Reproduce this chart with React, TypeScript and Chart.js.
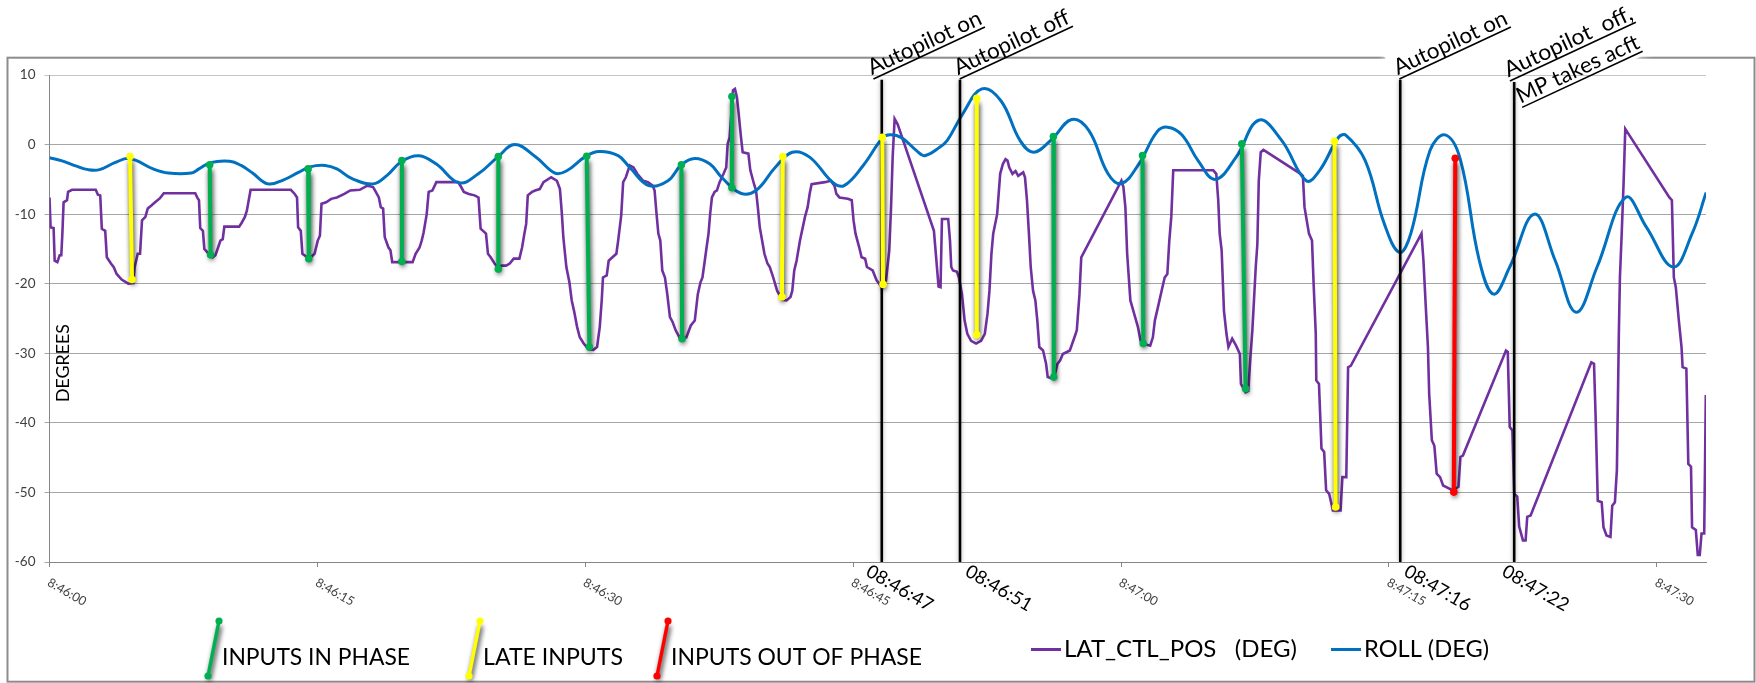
import React, { useEffect, useRef } from "react";
import { Chart, registerables } from "chart.js";

Chart.register(...registerables);

// ---------------- data ----------------
const X_TICK_VALUES = [0, 15, 30, 45, 60, 75, 90];
const X_TICK_LABELS = ["8:46:00", "8:46:15", "8:46:30", "8:46:45", "8:47:00", "8:47:15", "8:47:30"];
const Y_TICK_VALUES = [10, 0, -10, -20, -30, -40, -50, -60];

// seconds after 8:46:00
const ROLL_T = [0, 0.66, 1.51, 2.16, 2.8, 3.66, 4.5, 5.8, 6.66, 7.94, 8.37, 9.01, 10.09, 10.73, 11.37, 12.23, 13.08, 13.94, 14.59, 15.44, 16.09, 16.94, 18.12, 18.87, 19.73, 20.69, 21.66, 22.94, 24.01, 25.09, 26.05, 27.23, 28.3, 28.94, 30.02, 30.77, 31.84, 32.49, 33.56, 34.63, 35.38, 36.13, 36.98, 37.63, 38.7, 39.56, 40.63, 41.59, 42.56, 43.84, 44.49, 45.56, 46.63, 47.06, 47.7, 48.56, 48.99, 49.84, 50.27, 51.13, 52.2, 53.27, 54.34, 55.09, 56.06, 57.24, 58.2, 59.27, 60.02, 60.99, 62.0, 62.6, 63.4, 64.31, 65.27, 66.44, 67.71, 68.99, 70.37, 71.12, 72.18, 72.61, 73.67, 74.74, 75.59, 76.22, 77.29, 78.14, 78.99, 80.06, 80.86, 81.76, 83.14, 84.31, 85.48, 86.65, 88.25, 89.42, 90.91, 91.97, 92.76];
const ROLL_V = [-1.9, -2.3, -3.1, -3.6, -3.6, -2.6, -2.0, -3.5, -4.1, -4.1, -3.5, -2.6, -2.4, -3.0, -4.1, -5.65, -5.1, -4.0, -3.2, -3.0, -3.5, -4.9, -5.65, -4.5, -2.4, -1.6, -2.8, -5.5, -4.2, -1.8, 0, -1.8, -4.1, -3.8, -1.7, -1.0, -1.6, -3.3, -5.9, -5.2, -2.9, -2.0, -2.8, -4.7, -7.0, -6.6, -3.3, -1.1, -1.8, -5.4, -5.9, -3.0, 0.9, 1.4, 1.0, -0.9, -1.6, -0.4, 0.6, 4.4, 8.0, 6.3, 0.6, -1.1, 0.6, 3.6, 2.0, -4.2, -5.6, -2.8, 1.8, 2.5, 1.4, -2.3, -5.0, -1.8, 3.5, 0.6, -5.2, -3.7, 1.05, 1.3, -2.3, -11.4, -15.5, -12.8, -0.9, 1.4, -2.1, -16.7, -21.5, -17.6, -10.0, -16.7, -24.1, -17.6, -7.6, -11.9, -17.6, -12.8, -6.9];

const LAT_T = [0, 0.06, 0.23, 0.29, 0.44, 0.57, 0.66, 0.72, 0.79, 0.98, 1.04, 1.26, 2.59, 2.71, 2.84, 2.93, 3.12, 3.21, 3.44, 3.59, 3.76, 4.04, 4.41, 4.69, 4.77, 4.94, 5.07, 5.18, 5.37, 5.5, 5.69, 5.91, 6.19, 6.4, 8.16, 8.29, 8.37, 8.44, 8.59, 8.67, 8.91, 9.14, 9.29, 9.44, 9.57, 9.7, 9.79, 10.62, 10.77, 10.94, 11.05, 11.26, 13.51, 13.73, 13.86, 13.92, 14.07, 14.16, 14.37, 14.63, 14.84, 15.02, 15.14, 15.23, 15.49, 15.77, 16.09, 16.51, 16.84, 17.37, 17.8, 18.12, 18.27, 18.44, 18.55, 18.68, 18.77, 18.98, 19.09, 19.19, 20.33, 20.5, 20.72, 20.84, 20.95, 21.12, 21.23, 21.44, 21.66, 22.88, 23.05, 23.2, 23.48, 23.8, 24.02, 24.14, 24.44, 24.55, 24.7, 24.92, 25.09, 25.34, 25.56, 25.77, 25.99, 26.31, 26.46, 26.59, 26.69, 26.78, 27.02, 27.19, 27.45, 27.66, 28.09, 28.41, 28.58, 28.69, 28.77, 28.94, 29.11, 29.24, 29.37, 29.54, 29.69, 29.91, 30.17, 30.45, 30.66, 30.81, 30.92, 30.99, 31.2, 31.31, 31.52, 31.74, 31.84, 32.01, 32.12, 32.27, 32.49, 32.7, 32.91, 33.24, 33.51, 33.77, 33.88, 33.99, 34.09, 34.2, 34.31, 34.46, 34.59, 34.74, 34.89, 35.06, 35.31, 35.66, 35.91, 36.13, 36.3, 36.45, 36.56, 36.69, 36.79, 36.9, 36.99, 37.09, 37.24, 37.37, 37.52, 37.74, 37.89, 37.97, 38.08, 38.19, 38.27, 38.38, 38.49, 38.59, 38.7, 38.81, 39.13, 39.24, 39.45, 39.56, 39.66, 39.77, 39.9, 40.03, 40.2, 40.33, 40.52, 40.74, 40.89, 41.01, 41.27, 41.49, 41.59, 41.7, 41.83, 42.02, 42.3, 42.45, 42.56, 42.67, 43.42, 43.74, 43.95, 44.06, 44.23, 44.7, 44.92, 45.02, 45.13, 45.34, 45.47, 45.67, 45.77, 46.09, 46.31, 46.63, 46.84, 47.02, 47.12, 47.21, 47.32, 47.49, 49.52, 49.78, 49.89, 49.97, 50.32, 50.42, 50.49, 50.59, 50.81, 50.92, 51.09, 51.24, 51.39, 51.6, 51.88, 52.16, 52.37, 52.52, 52.63, 52.74, 52.84, 53.06, 53.23, 53.38, 53.53, 53.64, 53.74, 53.92, 54.09, 54.24, 54.52, 54.62, 54.73, 54.84, 54.94, 55.07, 55.2, 55.31, 55.42, 55.63, 55.8, 55.89, 56.23, 56.44, 56.59, 56.74, 57.13, 57.39, 57.52, 57.67, 57.77, 60.02, 60.13, 60.24, 60.34, 60.52, 60.73, 60.94, 61.09, 61.2, 61.63, 61.78, 61.89, 62.06, 62.27, 62.44, 62.59, 62.7, 62.81, 62.92, 65.16, 65.33, 65.44, 65.52, 65.63, 65.76, 65.9, 66.01, 66.22, 66.44, 66.65, 66.71, 66.97, 67.12, 67.24, 67.35, 67.44, 67.54, 67.63, 67.71, 67.82, 67.97, 70.05, 70.18, 70.27, 70.52, 70.69, 70.78, 70.9, 70.93, 71.08, 71.22, 71.37, 71.48, 71.65, 71.86, 72.29, 72.39, 72.61, 72.71, 72.86, 76.82, 76.93, 77.08, 77.18, 77.25, 77.4, 77.54, 77.67, 77.86, 78.03, 78.57, 78.89, 79.0, 79.14, 81.55, 81.65, 81.76, 81.91, 82.01, 82.18, 82.29, 82.5, 82.65, 82.74, 82.93, 86.33, 86.48, 86.57, 86.69, 86.91, 87.01, 87.18, 87.4, 87.5, 87.65, 87.76, 87.82, 87.87, 87.93, 88.03, 88.14, 88.23, 90.7, 90.84, 90.95, 91.06, 91.23, 91.38, 91.44, 91.65, 91.76, 91.91, 91.97, 92.18, 92.29, 92.4, 92.5, 92.65, 92.74];
const LAT_V = [-7.6, -11.9, -12.0, -16.7, -16.9, -15.9, -15.9, -12.8, -8.3, -8.0, -6.8, -6.5, -6.5, -7.2, -7.3, -12.1, -12.4, -16.2, -17.1, -17.6, -18.6, -19.4, -20.0, -19.9, -17.6, -15.7, -15.7, -10.9, -10.4, -9.2, -8.8, -8.3, -7.7, -7.0, -7.0, -7.7, -8.0, -12.0, -12.4, -15.0, -15.7, -16.2, -15.9, -14.8, -13.8, -13.6, -11.8, -11.8, -11.2, -10.4, -9.5, -6.5, -6.5, -7.1, -7.6, -11.9, -12.4, -15.7, -16.1, -16.2, -15.7, -13.8, -13.1, -8.5, -8.3, -7.8, -7.6, -7.1, -6.6, -6.5, -5.9, -6.1, -6.8, -7.6, -9.0, -9.2, -13.3, -14.8, -15.2, -16.9, -16.9, -15.7, -14.8, -13.8, -12.6, -10.0, -6.8, -6.6, -5.4, -5.4, -6.1, -6.8, -7.1, -7.3, -7.6, -12.1, -12.8, -15.7, -16.2, -17.1, -17.6, -17.4, -17.4, -17.1, -16.4, -16.4, -14.8, -12.8, -11.4, -7.3, -6.8, -6.6, -6.4, -5.4, -4.7, -5.2, -6.4, -10.0, -13.3, -17.6, -19.8, -22.4, -23.9, -26.2, -27.7, -28.6, -29.4, -29.5, -29.1, -26.2, -22.4, -19.1, -18.8, -16.7, -16.2, -15.7, -13.8, -10.2, -5.4, -4.7, -3.0, -3.3, -4.2, -5.2, -5.4, -5.9, -6.6, -10.0, -12.8, -13.8, -18.1, -19.1, -21.5, -24.8, -25.5, -26.7, -27.9, -27.7, -26.0, -25.3, -21.5, -19.8, -19.1, -16.7, -14.8, -12.8, -10.0, -7.6, -6.8, -6.6, -5.4, -4.2, -3.3, 0.1, 1.05, 4.9, 7.8, 8.0, 6.8, 4.4, 1.5, -1.1, -1.3, -3.7, -5.7, -6.6, -9.0, -11.9, -13.8, -15.7, -17.1, -17.6, -19.1, -21.0, -21.7, -22.3, -22.4, -21.9, -21.0, -18.1, -16.7, -13.8, -10.4, -9.0, -7.1, -5.7, -5.4, -5.2, -5.9, -7.1, -7.6, -7.8, -8.0, -10.9, -12.8, -14.8, -16.2, -16.4, -17.6, -18.1, -19.5, -20.6, -19.5, -15.2, -9.0, -1.8, 3.7, 2.9, -12.4, -20.4, -20.5, -10.7, -10.7, -13.8, -17.6, -18.1, -18.3, -19.1, -21.5, -25.3, -27.2, -28.2, -28.6, -28.2, -27.2, -24.3, -21.0, -15.7, -12.8, -10.0, -4.2, -2.8, -2.1, -2.3, -3.3, -4.2, -3.8, -4.5, -4.0, -4.7, -8.0, -12.8, -17.6, -21.0, -22.4, -25.3, -29.1, -29.6, -31.5, -33.4, -33.7, -31.5, -31.0, -30.1, -29.6, -27.7, -26.7, -21.5, -16.2, -5.2, -6.1, -9.0, -15.7, -22.4, -24.3, -26.2, -28.2, -28.6, -28.9, -27.7, -25.3, -23.4, -21.0, -19.1, -18.6, -13.8, -10.4, -3.7, -3.7, -4.2, -8.0, -12.8, -15.2, -23.9, -27.2, -29.1, -27.9, -28.9, -30.1, -34.4, -35.6, -35.4, -30.6, -26.7, -22.4, -17.6, -14.3, -5.2, -1.1, -0.77, -4.2, -4.5, -9.0, -12.8, -13.8, -20.0, -27.2, -33.9, -34.4, -43.7, -44.2, -49.7, -50.2, -52.6, -52.6, -47.8, -47.8, -32.0, -31.8, -12.8, -16.7, -24.3, -29.1, -35.8, -42.5, -43.3, -47.3, -47.8, -49.0, -49.7, -49.2, -44.9, -44.7, -29.6, -29.8, -40.6, -41.1, -50.2, -50.6, -54.9, -56.9, -56.9, -53.5, -53.3, -31.3, -31.5, -39.2, -51.2, -51.4, -55.0, -56.2, -56.4, -51.9, -51.4, -46.8, -36.3, -27.2, -19.1, -12.8, -5.2, 2.25, -7.6, -8.0, -19.1, -20.5, -25.3, -29.1, -32.0, -32.2, -45.9, -46.3, -55.0, -55.4, -59.0, -59.0, -55.9, -55.9, -36.0];

// pilot inputs: segment from (top time, top value) to (bottom time, bottom value)
const IN_PHASE_T_TOP = [8.97, 14.48, 19.73, 25.13, 30.08, 35.38, 38.21, 56.21, 61.2, 66.76];
const IN_PHASE_V_TOP = [-2.9, -3.5, -2.3, -1.72, -1.68, -2.9, 6.9, 1.15, -1.58, 0.1];
const IN_PHASE_T_BOT = [9.02, 14.52, 19.73, 25.13, 30.23, 35.42, 38.21, 56.23, 61.24, 66.97];
const IN_PHASE_V_BOT = [-15.85, -16.4, -16.8, -17.9, -29.1, -27.9, -6.2, -33.4, -28.6, -35.1];

const LATE_T_TOP = [4.51, 41.06, 46.63, 51.92, 71.95];
const LATE_V_TOP = [-1.72, -1.72, 1.05, 6.65, 0.48];
const LATE_T_BOT = [4.62, 41.01, 46.67, 51.92, 72.01];
const LATE_V_BOT = [-19.4, -21.9, -20.1, -27.35, -52.1];

const OUT_T_TOP = [78.71];
const OUT_V_TOP = [-1.96];
const OUT_T_BOT = [78.63];
const OUT_V_BOT = [-49.95];

// autopilot events
const EVENT_T = [46.6, 50.98, 75.63, 82.01];
const EVENT_TOP = [9.3, 9.3, 9.3, 9.0];
const EVENT_TIME_LABELS = ["08:46:47", "08:46:51", "08:47:16", "08:47:22"];
const EVENT_NOTES = [["Autopilot on"], ["Autopilot off"], ["Autopilot on"], ["Autopilot  off,", "MP takes acft"]];

// ---------------- layout / style ----------------
const W = 1756;
const H = 683;
const DEG = Math.PI / 180;
const FONT = "Lato, 'Open Sans', sans-serif";
const NOTE_DX = [-10, -2, -2.5, -6];
const NOTE_DY = -4.5;
const NOTE_W = [[123], [125], [123], [139, 133]];
const TIME_DX = [-17, 4, 2.5, -13.5];

const GREEN = "#00b050";
const YELLOW = "#ffff00";
const RED = "#ff0000";
const PURPLE = "#7030a0";
const BLUE = "#0070c0";

function drawText(
  ctx: CanvasRenderingContext2D,
  text: string,
  x: number,
  y: number,
  o: { angle?: number; size: number; color: string; align?: CanvasTextAlign; baseline?: CanvasTextBaseline; width?: number; underline?: boolean }
) {
  ctx.save();
  ctx.translate(x, y);
  if (o.angle) ctx.rotate(o.angle);
  ctx.font = `${o.size}px ${FONT}`;
  ctx.fillStyle = o.color;
  ctx.textAlign = o.align || "left";
  ctx.textBaseline = o.baseline || "alphabetic";
  const w = ctx.measureText(text).width;
  if (o.width) ctx.scale(o.width / w, 1);
  ctx.fillText(text, 0, 0);
  if (o.underline) ctx.fillRect(0, 3.2, w, 1.6);
  ctx.restore();
}

function segs(t1: number[], v1: number[], t2: number[], v2: number[]) {
  const out: { x: number; y: number | null }[] = [];
  t1.forEach((t, i) => {
    out.push({ x: t, y: v1[i] }, { x: t2[i], y: v2[i] }, { x: t2[i], y: null });
  });
  return out;
}

function pts(t: number[], v: number[]) {
  return t.map((x, i) => ({ x, y: v[i] }));
}

const decoPlugin = {
  id: "deco",
  beforeDraw(chart: any) {
    const { ctx } = chart;
    const xs = chart.scales.x;
    const ys = chart.scales.y;
    ctx.save();
    ctx.fillStyle = "#ffffff";
    ctx.fillRect(0, 0, W, H);
    ctx.strokeStyle = "#8c8c8c";
    ctx.lineWidth = 2;
    ctx.strokeRect(7.5, 57.7, 1747, 624);
    // white text boxes of the later annotations
    [2, 3].forEach((i) => {
      const lx = xs.getPixelForValue(EVENT_T[i]) + NOTE_DX[i];
      const ly = ys.getPixelForValue(EVENT_TOP[i]) + NOTE_DY;
      const lines = EVENT_NOTES[i].length;
      const w = Math.max(...NOTE_W[i]);
      ctx.save();
      ctx.translate(lx, ly);
      ctx.rotate(-25 * DEG);
      ctx.fillStyle = "#ffffff";
      ctx.shadowColor = "#ffffff";
      ctx.shadowBlur = 6;
      if (lines > 1) ctx.fillRect(-4, -34, w + 20, 34 + 29 + 8);
      else ctx.fillRect(-4, -34, w + 50, 34 + 34);
      ctx.restore();
    });
    ctx.restore();
  },
  beforeDatasetDraw(chart: any, args: any) {
    const ds = chart.data.datasets[args.index];
    if (ds.shadowKind) {
      const ctx = chart.ctx;
      ctx.save();
      if (ds.shadowKind === "drop") {
        ctx.shadowColor = "rgba(0,0,0,0.85)";
        ctx.shadowBlur = 5;
        ctx.shadowOffsetX = 1;
        ctx.shadowOffsetY = 5;
      } else {
        ctx.shadowColor = "rgba(0,0,0,0.35)";
        ctx.shadowBlur = 4;
      }
    }
  },
  afterDatasetDraw(chart: any, args: any) {
    const ds = chart.data.datasets[args.index];
    if (ds.shadowKind) chart.ctx.restore();
  },
  afterDraw(chart: any) {
    const { ctx } = chart;
    const xs = chart.scales.x;
    const ys = chart.scales.y;

    // x tick labels
    X_TICK_VALUES.forEach((v, i) => {
      drawText(ctx, X_TICK_LABELS[i], xs.getPixelForValue(v) - 3, 585, { angle: 30 * DEG, size: 12.5, color: "#404040" });
    });

    // event labels
    EVENT_T.forEach((t, i) => {
      const lx = xs.getPixelForValue(t);
      const ly = ys.getPixelForValue(EVENT_TOP[i]);
      drawText(ctx, EVENT_TIME_LABELS[i], lx + TIME_DX[i], 575, { angle: 30 * DEG, size: 18.5, color: "#000" });
      EVENT_NOTES[i].forEach((line, j) => {
        const bx = lx + NOTE_DX[i] + j * 29 * Math.sin(25 * DEG);
        const by = ly + NOTE_DY + j * 29 * Math.cos(25 * DEG);
        drawText(ctx, line, bx, by, { angle: -25 * DEG, size: 22, color: "#000", underline: true, width: NOTE_W[i][j] });
      });
    });

    // axis title
    drawText(ctx, "DEGREES", 63.5, 363, { angle: -90 * DEG, size: 18, color: "#000", align: "center", baseline: "middle", width: 78 });

    // legend: pilot inputs
    const icons = [
      { c: GREEN, bx: 208, text: "INPUTS IN PHASE", w: 188 },
      { c: YELLOW, bx: 469, text: "LATE INPUTS", w: 140 },
      { c: RED, bx: 657, text: "INPUTS OUT OF PHASE", w: 251 },
    ];
    icons.forEach((it) => {
      ctx.save();
      ctx.shadowColor = "rgba(0,0,0,0.85)";
      ctx.shadowBlur = 5;
      ctx.shadowOffsetX = 1;
      ctx.shadowOffsetY = 5;
      ctx.strokeStyle = it.c;
      ctx.lineWidth = 3.5;
      ctx.beginPath();
      ctx.moveTo(it.bx, 676);
      ctx.lineTo(it.bx + 11, 621);
      ctx.stroke();
      ctx.restore();
      ctx.save();
      ctx.fillStyle = it.c;
      [[it.bx, 676], [it.bx + 11, 621]].forEach(([px, py]) => {
        ctx.beginPath();
        ctx.arc(px, py, 3.6, 0, Math.PI * 2);
        ctx.fill();
      });
      ctx.restore();
      drawText(ctx, it.text, it.bx + 14, 665, { size: 23, color: "#000", width: it.w });
    });

    // legend: series
    const series = [
      { c: PURPLE, x0: 1031, text: "LAT_CTL_POS   (DEG)", w: 233 },
      { c: BLUE, x0: 1331, text: "ROLL (DEG)", w: 125 },
    ];
    series.forEach((s) => {
      ctx.save();
      ctx.strokeStyle = s.c;
      ctx.lineWidth = 3;
      ctx.beginPath();
      ctx.moveTo(s.x0, 649.5);
      ctx.lineTo(s.x0 + 30, 649.5);
      ctx.stroke();
      ctx.restore();
      drawText(ctx, s.text, s.x0 + 33, 657, { size: 23, color: "#000", width: s.w });
    });
  },
};

export default function App() {
  const ref = useRef<HTMLCanvasElement | null>(null);

  useEffect(() => {
    const canvas = ref.current;
    if (!canvas) return;

    const inputPoints = (data: any[], color: string) => ({
      data,
      showLine: false,
      pointRadius: 3.8,
      pointHoverRadius: 3.8,
      pointBackgroundColor: color,
      pointBorderWidth: 0,
      borderColor: color,
      backgroundColor: color,
    });
    const inputLines = (data: any[], color: string) => ({
      data,
      borderColor: color,
      backgroundColor: color,
      borderWidth: 4,
      pointRadius: 0,
      tension: 0,
      spanGaps: false,
      shadowKind: "drop",
    });

    const red = segs(OUT_T_TOP, OUT_V_TOP, OUT_T_BOT, OUT_V_BOT);
    const yellow = segs(LATE_T_TOP, LATE_V_TOP, LATE_T_BOT, LATE_V_BOT);
    const green = segs(IN_PHASE_T_TOP, IN_PHASE_V_TOP, IN_PHASE_T_BOT, IN_PHASE_V_BOT);
    const events = segs(EVENT_T, EVENT_TOP, EVENT_T, EVENT_T.map(() => -60));

    const chart = new Chart(canvas, {
      type: "line",
      data: {
        datasets: [
          inputPoints(red, RED),
          inputPoints(yellow, YELLOW),
          inputPoints(green, GREEN),
          inputLines(red, RED),
          inputLines(yellow, YELLOW),
          inputLines(green, GREEN),
          {
            data: events,
            borderColor: "#000",
            borderWidth: 2.6,
            pointRadius: 0,
            spanGaps: false,
            shadowKind: "glow",
          },
          {
            label: "ROLL (DEG)",
            data: pts(ROLL_T, ROLL_V),
            borderColor: BLUE,
            borderWidth: 3,
            pointRadius: 0,
            tension: 0.4,
          },
          {
            label: "LAT_CTL_POS (DEG)",
            data: pts(LAT_T, LAT_V),
            borderColor: PURPLE,
            borderWidth: 2.6,
            pointRadius: 0,
            tension: 0,
          },
        ] as any,
      },
      options: {
        responsive: false,
        animation: false,
        devicePixelRatio: 1,
        layout: { padding: { left: 0, right: 50, top: 75, bottom: 0 } },
        plugins: { legend: { display: false }, tooltip: { enabled: false } },
        events: [],
        scales: {
          x: {
            type: "linear",
            min: 0,
            max: 92.75,
            afterBuildTicks: (s: any) => {
              s.ticks = X_TICK_VALUES.map((v) => ({ value: v }));
            },
            afterFit: (s: any) => {
              s.height = 121;
            },
            ticks: { display: false },
            grid: { drawOnChartArea: false, drawTicks: true, tickLength: 5, color: "#868686" },
            border: { color: "#868686", width: 1 },
          },
          y: {
            type: "linear",
            min: -60,
            max: 10,
            afterBuildTicks: (s: any) => {
              s.ticks = Y_TICK_VALUES.map((v) => ({ value: v }));
            },
            afterFit: (s: any) => {
              s.width = 49.5;
            },
            ticks: {
              padding: 9,
              color: "#404040",
              font: { family: FONT, size: 13.5 },
              callback: (v: any) => String(v),
            },
            grid: {
              drawTicks: true,
              tickLength: 5,
              color: (c: any) => (c.tick && c.tick.value === 10 ? "#c4c4c4" : "#a6a6a6"),
            },
            border: { color: "#868686", width: 1 },
          },
        },
      } as any,
      plugins: [decoPlugin],
    });

    return () => chart.destroy();
  }, []);

  return (
    <div style={{ position: "absolute", left: 0, top: 0, width: W, height: H, background: "#fff" }}>
      <canvas ref={ref} width={W} height={H} style={{ display: "block", width: W, height: H }} />
    </div>
  );
}
